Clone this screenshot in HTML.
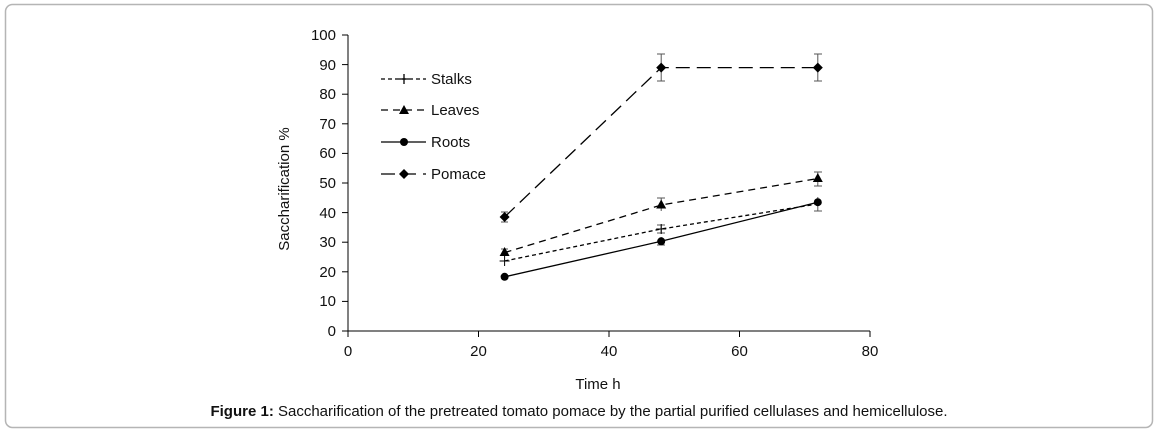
<!DOCTYPE html>
<html><head><style>
body{margin:0;background:#fff;}
svg{display:block;font-family:"Liberation Sans",Arial,sans-serif;}
</style></head><body>
<svg width="1159" height="434" xmlns="http://www.w3.org/2000/svg">
<rect x="5.5" y="4.5" width="1147" height="423" rx="7" fill="#fff" stroke="#b5b5b5" stroke-width="1.5"/>
<g stroke="#000" stroke-width="1" fill="none">
<line x1="348" y1="35" x2="348" y2="331"/>
<line x1="348" y1="331" x2="870" y2="331"/>
<line x1="342" y1="331" x2="348" y2="331"/><line x1="342" y1="301.4" x2="348" y2="301.4"/>
<line x1="342" y1="271.8" x2="348" y2="271.8"/><line x1="342" y1="242.2" x2="348" y2="242.2"/>
<line x1="342" y1="212.6" x2="348" y2="212.6"/><line x1="342" y1="183" x2="348" y2="183"/>
<line x1="342" y1="153.4" x2="348" y2="153.4"/><line x1="342" y1="123.8" x2="348" y2="123.8"/>
<line x1="342" y1="94.2" x2="348" y2="94.2"/><line x1="342" y1="64.6" x2="348" y2="64.6"/>
<line x1="342" y1="35" x2="348" y2="35"/>
<line x1="348" y1="331" x2="348" y2="337"/><line x1="478.5" y1="331" x2="478.5" y2="337"/>
<line x1="609" y1="331" x2="609" y2="337"/><line x1="739.5" y1="331" x2="739.5" y2="337"/>
<line x1="870" y1="331" x2="870" y2="337"/>
</g>
<g font-size="15" fill="#111" text-anchor="end">
<text x="336" y="336">0</text><text x="336" y="306">10</text><text x="336" y="277">20</text>
<text x="336" y="247">30</text><text x="336" y="218">40</text><text x="336" y="188">50</text>
<text x="336" y="158">60</text><text x="336" y="129">70</text><text x="336" y="99">80</text>
<text x="336" y="70">90</text><text x="336" y="40">100</text>
</g>
<g font-size="15" fill="#111" text-anchor="middle">
<text x="348" y="356">0</text><text x="478.5" y="356">20</text><text x="609" y="356">40</text>
<text x="739.5" y="356">60</text><text x="870" y="356">80</text>
<text x="598" y="389">Time h</text>
<text transform="translate(289,189) rotate(-90)">Saccharification %</text>
</g>
<text x="579" y="416" font-size="15" text-anchor="middle" fill="#111"><tspan font-weight="bold">Figure 1:</tspan> Saccharification of the pretreated tomato pomace by the partial purified cellulases and hemicellulose.</text>
<g stroke="#555" stroke-width="1">
<line x1="504.6" y1="212" x2="504.6" y2="222"/><line x1="501" y1="212" x2="508" y2="212"/><line x1="501" y1="222" x2="508" y2="222"/>
<line x1="661.2" y1="54" x2="661.2" y2="81"/><line x1="657" y1="54" x2="665" y2="54"/><line x1="657" y1="81" x2="665" y2="81"/>
<line x1="817.8" y1="54" x2="817.8" y2="81"/><line x1="814" y1="54" x2="822" y2="54"/><line x1="814" y1="81" x2="822" y2="81"/>
<line x1="817.8" y1="172" x2="817.8" y2="186"/><line x1="814" y1="172" x2="822" y2="172"/><line x1="814" y1="186" x2="822" y2="186"/>
<line x1="817.8" y1="197" x2="817.8" y2="211"/><line x1="814" y1="211" x2="822" y2="211"/>
<line x1="661.2" y1="198" x2="661.2" y2="211"/><line x1="657" y1="198" x2="665" y2="198"/>
<line x1="661.2" y1="225" x2="661.2" y2="233"/><line x1="657" y1="225" x2="665" y2="225"/><line x1="657" y1="233" x2="665" y2="233"/>
<line x1="661.2" y1="237" x2="661.2" y2="245"/><line x1="657" y1="245" x2="665" y2="245"/>
<line x1="504.6" y1="249" x2="504.6" y2="256"/><line x1="501" y1="249" x2="508" y2="249"/>
</g>
<g stroke="#000" stroke-width="1.3" fill="none">
<polyline points="504.6,261 661.2,229 817.8,204" stroke-dasharray="4,3"/>
<polyline points="504.6,252.6 661.2,205 817.8,178.5" stroke-dasharray="7,5"/>
<polyline points="504.6,276.8 661.2,241.3 817.8,202.2"/>
<polyline points="504.6,217 661.2,67.6 817.8,67.6" stroke-dasharray="14,7"/>
</g>
<g fill="#000">
<path d="M499.6,261h10M504.6,256v10M656.2,229h10M661.2,224v10" stroke="#000"/>
<polygon points="504.6,247 499.6,256 509.6,256"/><polygon points="661.2,199.5 656.2,208.5 666.2,208.5"/><polygon points="817.8,173 812.8,182 822.8,182"/>
<circle cx="504.6" cy="276.8" r="4"/><circle cx="661.2" cy="241.3" r="4"/><circle cx="817.8" cy="202.2" r="4"/>
<polygon points="504.6,212 509.6,217 504.6,222 499.6,217"/><polygon points="661.2,62.6 666.2,67.6 661.2,72.6 656.2,67.6"/><polygon points="817.8,62.6 822.8,67.6 817.8,72.6 812.8,67.6"/>
</g>
<g stroke="#000" stroke-width="1.3" fill="none">
<line x1="381" y1="79" x2="426" y2="79" stroke-dasharray="4,3"/>
<line x1="381" y1="110" x2="426" y2="110" stroke-dasharray="7,5"/>
<line x1="381" y1="142" x2="426" y2="142"/>
<line x1="381" y1="174" x2="426" y2="174" stroke-dasharray="14,7"/>
<path d="M399,79h10M404,74v10"/>
</g>
<g fill="#000">
<polygon points="404,105 399,114 409,114"/><circle cx="404" cy="142" r="4"/>
<polygon points="404,169 409,174 404,179 399,174"/>
</g>
<g font-size="15" fill="#111">
<text x="431" y="84">Stalks</text><text x="431" y="115">Leaves</text>
<text x="431" y="147">Roots</text><text x="431" y="179">Pomace</text>
</g>
</svg>
</body></html>
